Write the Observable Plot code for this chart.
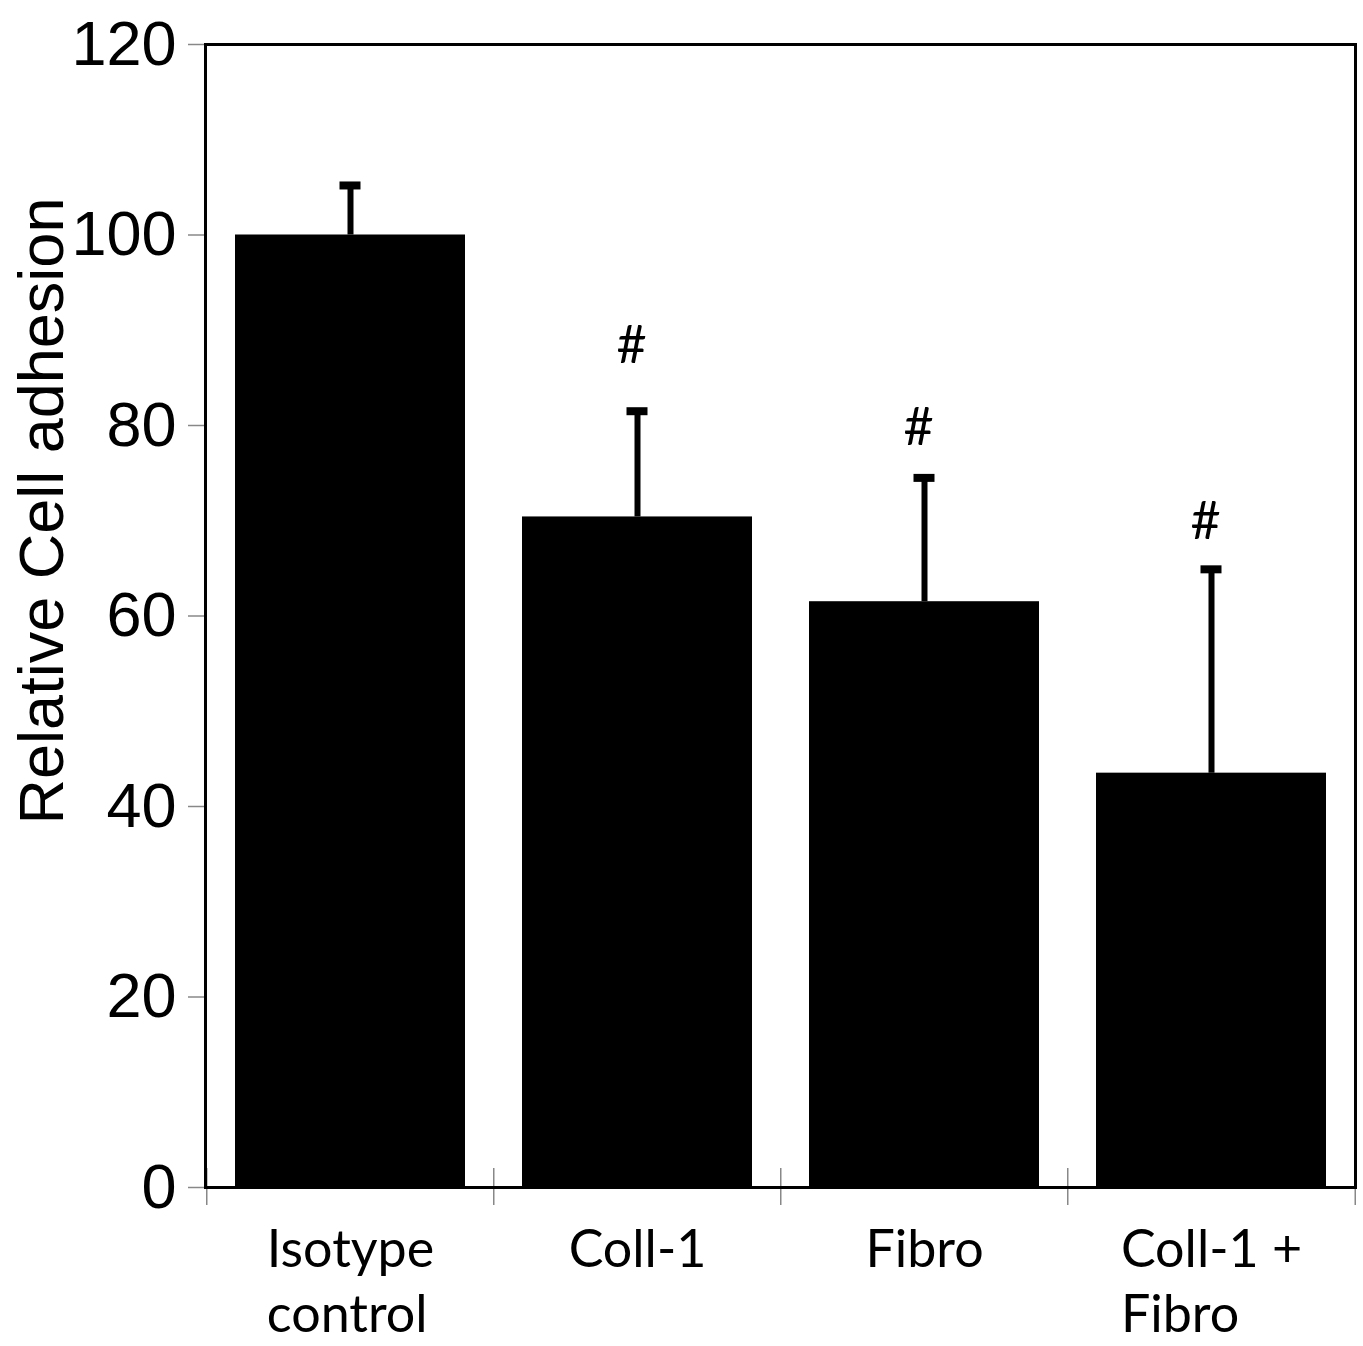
<!DOCTYPE html>
<html>
<head>
<meta charset="utf-8">
<script src="https://cdn.jsdelivr.net/npm/d3@7"></script>
<script src="https://cdn.jsdelivr.net/npm/@observablehq/plot@0.6"></script>
<style>
  html, body { margin: 0; padding: 0; background: #fff; }
  #chart svg { display: block; }
</style>
</head>
<body>
<div id="chart"></div>
<script>
// ---- data ----
const categories = ["Isotype control", "Coll-1", "Fibro", "Coll-1 + Fibro"];
const labels = ["Isotype\ncontrol", "Coll-1", "Fibro", "Coll-1 +\nFibro"];
const means = [100, 70.4, 61.5, 43.5];
const errors = [5.2, 11.1, 13.0, 21.4];
const significance = ["", "#", "#", "#"];
const sigY = [null, 88.3, 79.7, 69.8];
const yTicks = [0, 20, 40, 60, 80, 100, 120];
const yLabel = "Relative Cell adhesion";

const rows = categories.map((c, i) => ({
  cat: c, label: labels[i], mean: means[i], err: errors[i], top: means[i] + errors[i],
  sig: significance[i], sigY: sigY[i]
}));

const W = 1363, H = 1346;
const mL = 205, mR = 8, mT = 44, mB = 159;
const step = (W - mL - mR) / categories.length;

const labelFont = "Lato, 'Open Sans', sans-serif";
const labelSize = 52;
const ctx = document.createElement("canvas").getContext("2d");
ctx.font = `${labelSize}px Lato, 'Open Sans', sans-serif`;
const blockWidth = s => Math.max(...s.split("\n").map(l => ctx.measureText(l).width));

const labelMarks = rows.map(r => Plot.text([r], {
  x: "cat", text: "label", frameAnchor: "bottom", lineAnchor: "top", textAnchor: "start",
  dy: 34, dx: -blockWidth(r.label) / 2, lineHeight: 1.24, fontSize: labelSize,
  fontFamily: labelFont, fill: "black"
}));

const plot = Plot.plot({
  width: W,
  height: H,
  marginLeft: mL,
  marginRight: mR,
  marginTop: mT,
  marginBottom: mB,
  style: { fontFamily: "'Liberation Sans', Arial, sans-serif", color: "black", background: "white" },
  x: { type: "band", domain: categories, paddingInner: 0.2, paddingOuter: 0.1, axis: null },
  y: { domain: [0, 120], axis: null },
  marks: [
    // x boundary ticks
    Plot.ruleX(categories, { x: d => d, y1: -1.9, y2: 2, dx: -step / 2, stroke: "#888", strokeWidth: 1.5 }),
    Plot.ruleX([categories[categories.length - 1]], { x: d => d, y1: -1.9, y2: 0, dx: step / 2, stroke: "#888", strokeWidth: 1.5 }),
    Plot.barY(rows, { x: "cat", y: "mean", fill: "black" }),
    Plot.ruleX(rows, { x: "cat", y1: "mean", y2: "top", stroke: "black", strokeWidth: 6 }),
    Plot.tickY(rows, { x: "cat", y: "top", stroke: "black", strokeWidth: 8, insetLeft: 104.5, insetRight: 104.5 }),
    Plot.text(rows.filter(d => d.sig), { x: "cat", y: "sigY", text: "sig", fontSize: 52, dx: -6,
      fontFamily: labelFont, fill: "black" }),
    Plot.axisY({ ticks: yTicks, tickSize: 17, tickPadding: 12, fontSize: 63, stroke: "#888", strokeWidth: 1.5, label: null, fill: "black" }),
    Plot.text([yLabel], { frameAnchor: "left", textAnchor: "middle", rotate: -90, dx: -163, dy: -105, fontSize: 63, fill: "black" }),
    ...labelMarks,
    Plot.frame({ stroke: "black", strokeWidth: 3 })
  ]
});
document.getElementById("chart").append(plot);
</script>
</body>
</html>
